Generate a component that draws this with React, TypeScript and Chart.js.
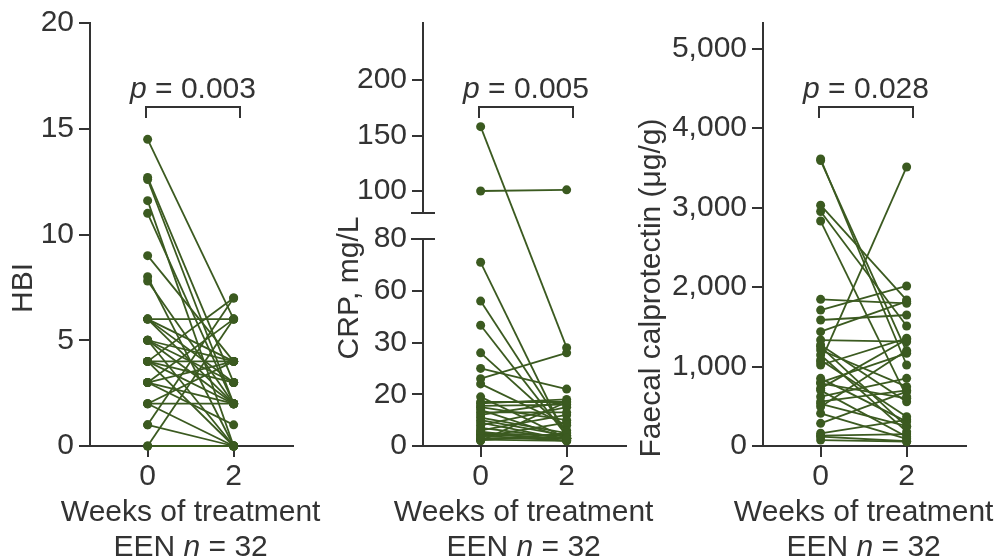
import React, { useEffect, useRef } from 'react';
import { Chart, registerables } from 'chart.js';

Chart.register(...registerables);

// ---------- data ----------
const weeks = [0, 2];
const xTickLabels = ['0', '2'];

const hbiWeek0 = [14.5, 12.7, 12.6, 11.6, 11, 9, 8, 7.8, 6, 6, 6, 6, 5, 5, 5, 5, 4, 4, 4, 4, 4, 3, 3, 3, 3, 2, 2, 2, 1, 1, 0, 0];
const hbiWeek2 = [6, 3, 2, 0, 2, 4, 0, 2, 6, 2, 4, 3, 0, 3, 2, 4, 4, 7, 2, 0, 3, 2, 6, 4, 1, 2, 4, 0, 7, 0, 0, 6];

const crpWeek0 = [158, 100, 71, 54, 40, 28, 25, 23, 22, 19, 17, 16.5, 15.5, 15, 14, 13, 12, 11, 10, 9, 8, 7, 6, 5.5, 5, 4.5, 4, 3.5, 3, 2.5, 2.2, 2];
const crpWeek2 = [29, 101, 3, 5, 4, 6, 21, 28, 8, 3, 17, 18, 16, 10, 3, 13, 17, 5, 4, 2.5, 15, 3, 12, 2, 4, 3, 2, 9, 3, 2, 5, 17];

const calWeek0 = [3610, 3590, 3030, 2950, 2830, 1845, 1710, 1585, 1438, 1333, 1270, 1250, 1208, 1145, 1082, 1057, 1019, 851, 800, 788, 725, 700, 620, 557, 530, 494, 411, 285, 160, 130, 117, 75];
const calWeek2 = [1019, 1186, 1836, 1510, 620, 1795, 2013, 1648, 1820, 1312, 557, 243, 746, 180, 369, 3510, 1355, 306, 1166, 600, 1340, 117, 851, 700, 250, 1200, 90, 683, 330, 150, 60, 54];

const hbiTicks = [0, 5, 10, 15, 20];
const crpTicks = [0, 20, 30, 60, 80, 100, 150, 200];
const calTicks = [0, 1000, 2000, 3000, 4000, 5000];

const yTitles = ['HBI', 'CRP, mg/L', 'Faecal calprotectin (\u03bcg/g)'];
const xTitle = 'Weeks of treatment';
const pValues = ['0.003', '0.005', '0.028'];
const groupLabel = ['EEN ', 'n', ' = 32'];

// ---------- style ----------
const GREEN = '#3b5a20';
const AXIS = '#333333';
const TEXT = '#333333';
const FAMILY = "'Liberation Sans', Arial, Helvetica, sans-serif";
const FONT_SIZE = 30;

// CRP axis with a broken, segmented scale
function crpToAxis(v: number): number {
  if (v <= 20) return v / 20;
  if (v <= 30) return 1 + (v - 20) / 10;
  if (v <= 60) return 2 + (v - 30) / 30;
  if (v <= 80) return 3 + (v - 60) / 20;
  return 4.928 + (v - 100) * 0.02144;
}
const ident = (v: number) => v;

interface Spec {
  w0: number[];
  w2: number[];
  ticks: number[];
  toAxis: (v: number) => number;
  yMax: number;
  padLeft: number;
  padRight: number;
  yTitle: string;
  yTitleX: number;
  p: string;
  fmt: (v: number) => string;
  breakAxis?: [number, number];
}

const specs: Spec[] = [
  {
    w0: hbiWeek0, w2: hbiWeek2, ticks: hbiTicks, toAxis: ident, yMax: 20,
    padLeft: 0, padRight: 705, yTitle: yTitles[0], yTitleX: 24, p: pValues[0],
    fmt: (v) => String(v),
  },
  {
    w0: crpWeek0, w2: crpWeek2, ticks: crpTicks, toAxis: crpToAxis, yMax: 8.174,
    padLeft: 333, padRight: 372, yTitle: yTitles[1], yTitleX: 350, p: pValues[1],
    fmt: (v) => String(v), breakAxis: [4.0, 4.502],
  },
  {
    w0: calWeek0, w2: calWeek2, ticks: calTicks, toAxis: ident, yMax: 5321,
    padLeft: 673, padRight: 32, yTitle: yTitles[2], yTitleX: 652, p: pValues[2],
    fmt: (v) => v.toLocaleString('en-US'),
  },
];

function fontStr(italic: boolean) {
  return (italic ? 'italic ' : '') + FONT_SIZE + 'px ' + FAMILY;
}

function drawRuns(ctx: CanvasRenderingContext2D, runs: [string, boolean][], cx: number, baseline: number) {
  const widths = runs.map(([t, it]) => {
    ctx.font = fontStr(it);
    return ctx.measureText(t).width;
  });
  const total = widths.reduce((a, b) => a + b, 0);
  let x = cx - total / 2;
  ctx.textAlign = 'left';
  ctx.textBaseline = 'alphabetic';
  ctx.fillStyle = TEXT;
  runs.forEach(([t, it], i) => {
    ctx.font = fontStr(it);
    ctx.fillText(t, x, baseline);
    x += widths[i];
  });
}

function overlayPlugin(spec: Spec) {
  return {
    id: 'overlay',
    afterDraw(chart: any) {
      const { ctx, chartArea, scales } = chart;
      const xs = scales.x;
      const ys = scales.y;
      const x0 = xs.getPixelForValue(weeks[0]);
      const x2 = xs.getPixelForValue(weeks[1]);
      ctx.save();
      ctx.strokeStyle = AXIS;
      ctx.lineWidth = 2;

      // axis break
      if (spec.breakAxis) {
        const yLo = Math.round(ys.getPixelForValue(spec.breakAxis[0]));
        const yHi = Math.round(ys.getPixelForValue(spec.breakAxis[1]));
        ctx.fillStyle = '#ffffff';
        ctx.fillRect(chartArea.left - 3, yHi + 1, 6, yLo - yHi - 2);
        [yLo, yHi].forEach((y) => {
          ctx.beginPath();
          ctx.moveTo(chartArea.left - 12, y);
          ctx.lineTo(chartArea.left + 12, y);
          ctx.stroke();
        });
      }

      // significance bracket
      const bl = Math.round(x0 - 2);
      const br = Math.round(x2 + 6);
      ctx.beginPath();
      ctx.moveTo(bl, 118);
      ctx.lineTo(bl, 107);
      ctx.lineTo(br, 107);
      ctx.lineTo(br, 118);
      ctx.stroke();

      drawRuns(ctx, [['p', true], [' = ' + spec.p, false]], (bl + br) / 2, 98);

      // x title and group label
      drawRuns(ctx, [[xTitle, false]], (x0 + x2) / 2, 521);
      drawRuns(ctx, [[groupLabel[0], false], [groupLabel[1], true], [groupLabel[2], false]], (x0 + x2) / 2, 556);

      // y title
      ctx.translate(spec.yTitleX, 288);
      ctx.rotate(-Math.PI / 2);
      ctx.font = fontStr(false);
      ctx.fillStyle = TEXT;
      ctx.textAlign = 'center';
      ctx.textBaseline = 'middle';
      ctx.fillText(spec.yTitle, 0, 0);
      ctx.restore();
    },
  };
}

function makeChart(canvas: HTMLCanvasElement, spec: Spec) {
  const datasets = spec.w0.map((v, i) => ({
    data: [
      { x: weeks[0], y: spec.toAxis(v) },
      { x: weeks[1], y: spec.toAxis(spec.w2[i]) },
    ],
    borderColor: GREEN,
    backgroundColor: GREEN,
    pointBackgroundColor: GREEN,
    pointBorderColor: GREEN,
    borderWidth: 1.8,
    pointRadius: 4.5,
    pointBorderWidth: 0,
    tension: 0,
    clip: false as any,
  }));
  const font = { family: FAMILY, size: FONT_SIZE };
  return new Chart(canvas, {
    type: 'line',
    data: { datasets },
    options: {
      animation: false,
      responsive: false,
      maintainAspectRatio: false,
      events: [],
      layout: { padding: { left: spec.padLeft, right: spec.padRight, top: 23, bottom: 0 } },
      plugins: { legend: { display: false }, tooltip: { enabled: false }, title: { display: false } },
      scales: {
        x: {
          type: 'linear',
          min: -1.34,
          max: 3.38,
          afterBuildTicks: (s: any) => {
            s.ticks = weeks.map((v) => ({ value: v }));
          },
          afterFit: (s: any) => {
            s.height = 112;
          },
          ticks: {
            callback: (_v: any, idx: number) => xTickLabels[idx],
            font,
            color: TEXT,
            padding: 2,
            autoSkip: false,
            maxRotation: 0,
          },
          grid: { display: true, drawOnChartArea: false, drawTicks: true, tickLength: 11, color: AXIS, lineWidth: 2 },
          border: { display: true, color: AXIS, width: 2 },
          title: { display: false },
        },
        y: {
          type: 'linear',
          min: 0,
          max: spec.yMax,
          afterBuildTicks: (s: any) => {
            s.ticks = spec.ticks.map((v) => ({ value: spec.toAxis(v) }));
          },
          afterFit: (s: any) => {
            s.width = 90;
          },
          ticks: {
            callback: (_v: any, idx: number) => spec.fmt(spec.ticks[idx]),
            font,
            color: TEXT,
            padding: 5,
            autoSkip: false,
          },
          grid: { display: true, drawOnChartArea: false, drawTicks: true, tickLength: 11, color: AXIS, lineWidth: 2 },
          border: { display: true, color: AXIS, width: 2 },
        },
      },
    } as any,
    plugins: [overlayPlugin(spec)],
  });
}

export default function App() {
  const refs = [useRef<HTMLCanvasElement>(null), useRef<HTMLCanvasElement>(null), useRef<HTMLCanvasElement>(null)];
  useEffect(() => {
    Chart.defaults.font.family = FAMILY;
    const charts = specs.map((spec, i) => makeChart(refs[i].current as HTMLCanvasElement, spec));
    return () => charts.forEach((c) => c.destroy());
  }, []);
  return (
    <div style={{ position: 'fixed', left: 0, top: 0, width: 998, height: 558, background: '#ffffff' }}>
      {refs.map((r, i) => (
        <canvas
          key={i}
          ref={r}
          width={998}
          height={558}
          style={{ position: 'absolute', left: 0, top: 0, width: 998, height: 558 }}
        />
      ))}
    </div>
  );
}
